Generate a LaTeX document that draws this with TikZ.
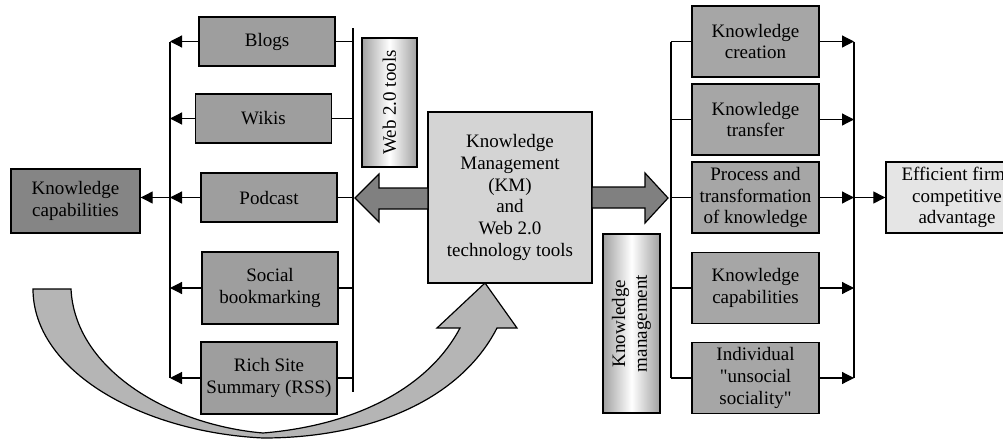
\documentclass[tikz,border=0pt]{standalone}
\usepackage{fontspec}
\setmainfont{Liberation Serif}
\newfontfamily\figfont{Liberation Serif}
\usetikzlibrary{arrows.meta,backgrounds,calc}
\definecolor{boxfill}{gray}{0.62}
\definecolor{rboxfill}{gray}{0.65}
\definecolor{kcapfill}{gray}{0.52}
\definecolor{kmfill}{gray}{0.83}
\definecolor{bigarrfill}{gray}{0.5}
\definecolor{curvefill}{gray}{0.71}
\definecolor{efffill}{gray}{0.9}
\definecolor{shadeedge}{gray}{0.62}
\begin{document}
\begin{tikzpicture}[x=1pt,y=-1pt,
  font=\figfont\fontsize{19}{21.7}\selectfont,
  box/.style={draw=black, line width=1.4pt, fill=boxfill, minimum width=136pt, minimum height=49pt, align=center, inner sep=1pt},
  rbox/.style={box, fill=rboxfill, minimum width=127pt, minimum height=71pt},
  vbox/.style={draw=black, line width=1.2pt, rotate=90, align=center, inner sep=1pt},
  conn/.style={line width=1.2pt},
  arr/.style={line width=1.2pt, -{Triangle[length=12pt,width=12pt]}},
  bigarrow/.style={draw=black, line width=1.2pt, fill=bigarrfill, line join=miter}
]
\useasboundingbox (0,0) rectangle (1003,439);

% curved arrow
\filldraw[line width=1.2pt, fill=curvefill, line join=miter]
  (33,289) -- (71,289)
  .. controls (75,370) and (170,425) .. (263,433)
  .. controls (360,425) and (430,385) .. (460,328)
  -- (437,328) -- (485,283) -- (517,328) -- (497,328)
  .. controls (460,400) and (370,438) .. (263,438)
  .. controls (140,432) and (33,370) .. (33,289) -- cycle;

% left tool boxes
\node[box] (blogs) at (267,41.5) {Blogs};
\node[box] (wikis) at (263.5,118.5) {Wikis};
\node[box] (podcast) at (269,197.5) {Podcast};
\node[box, minimum height=72pt] (social) at (270,288) {Social\\bookmarking};
\node[box, minimum height=72pt] (rss) at (269,378) {Rich Site\\Summary (RSS)};
\node[box, fill=kcapfill, minimum width=129pt, minimum height=64pt] (kcapL) at (75.5,201) {Knowledge\\capabilities};

\coordinate (lvtop) at (170,41.5);
\coordinate (lvbot) at (170,378);
\coordinate (rvtop) at (353,28);
\coordinate (rvbot) at (353,392);
\draw[conn] (lvtop) -- (lvbot);
\draw[conn] (rvtop) -- (rvbot);
\foreach \n in {blogs,wikis,podcast,social,rss} {
  \draw[arr] (\n.west) -- (\n.west -| lvtop);
  \draw[conn] (\n.east) -- (\n.east -| rvtop);
}
\draw[arr] (podcast.west -| lvtop) -- (kcapL.east |- podcast.west);

% Web 2.0 tools
\node[vbox, minimum width=129pt, minimum height=55pt] (web) at (389.5,102.5) {Web 2.0 tools};
\begin{scope}[on background layer]
  \shade[left color=shadeedge, right color=shadeedge, middle color=white] (web.south west) rectangle (web.north east);
\end{scope}

% central box
\node[draw=black, line width=1.4pt, fill=kmfill, minimum width=164pt, minimum height=171pt, align=center, inner sep=1pt] (km) at (510,197.5)
  {Knowledge\\Management\\(KM)\\and\\Web 2.0\\technology tools};

% big arrows
\filldraw[bigarrow] (428,188) -- (379,188) -- (379,174) -- (355,198) -- (379,222) -- (379,209) -- (428,209) -- cycle;
\filldraw[bigarrow] (592,187) -- (645,187) -- (645,173) -- (668,198) -- (645,223) -- (645,208) -- (592,208) -- cycle;

% Knowledge management label
\node[vbox, minimum width=179pt, minimum height=57pt] (kmg) at (631.5,323.5) {Knowledge\\management};
\begin{scope}[on background layer]
  \shade[left color=shadeedge, right color=shadeedge, middle color=white] (kmg.south west) rectangle (kmg.north east);
\end{scope}

% right boxes
\node[rbox] (kc) at (755.5,41.5) {Knowledge\\creation};
\node[rbox] (kt) at (755.5,119.5) {Knowledge\\transfer};
\node[rbox] (pt) at (755.5,197.5) {Process and\\transformation\\of knowledge};
\node[rbox] (kcapR) at (755.5,288) {Knowledge\\capabilities};
\node[rbox] (ind) at (755.5,378) {Individual\\"unsocial\\sociality"};

\coordinate (rbtop) at (671,41.5);
\coordinate (rbbot) at (671,378);
\coordinate (rctop) at (854,41.5);
\coordinate (rcbot) at (854,378);
\draw[conn] (rbtop) -- (rbbot);
\draw[conn] (rctop) -- (rcbot);
\foreach \n in {kc,kt,pt,kcapR,ind} {
  \draw[conn] (\n.west -| rbtop) -- (\n.west);
  \draw[arr] (\n.east) -- (\n.east -| rctop);
}

\node[draw=black, line width=1.4pt, fill=efffill, minimum width=142pt, minimum height=71pt, align=center, inner sep=1pt] (eff) at (957,197.5)
  {Efficient firms\\competitive\\advantage};
\draw[arr] (pt.east -| rctop) -- (eff.west);
\end{tikzpicture}
\end{document}
